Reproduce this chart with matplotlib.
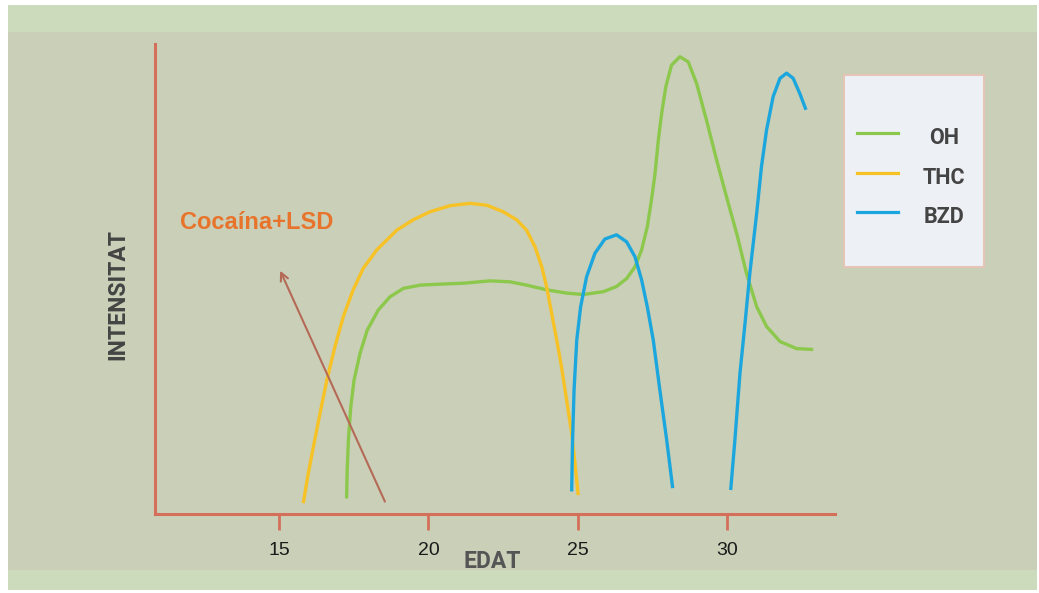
import numpy as np
import matplotlib
matplotlib.use("Agg")
from matplotlib import pyplot as plt
from matplotlib.patches import Rectangle
from matplotlib.lines import Line2D

# values (EDAT in years, INTENSITAT on a 0-100 scale)
thc_x = [15.81, 15.98, 16.15, 16.37, 16.60, 16.87, 17.15, 17.48, 17.82, 18.27, 18.94, 19.49, 20.05, 20.72,
         21.39, 21.95, 22.50, 22.95, 23.28, 23.56, 23.79, 23.95, 24.12, 24.29, 24.45, 24.62, 24.79, 24.90, 25.01]
thc_y = [2.3, 8.7, 14.3, 21.4, 28.5, 35.6, 42.0, 47.7, 52.3, 56.2, 60.4, 62.6, 64.3, 65.6,
         66.1, 65.7, 64.3, 62.6, 60.4, 56.9, 52.6, 48.4, 42.7, 37.0, 31.3, 24.3, 17.2, 10.8, 4.0]

oh_x = [17.26, 17.28, 17.32, 17.40, 17.51, 17.71, 17.95, 18.32, 18.71, 19.16, 19.72, 20.38, 21.16, 22.06,
        22.73, 23.28, 23.95, 24.62, 25.18, 25.85, 26.29, 26.63, 26.91, 27.13, 27.32, 27.46, 27.58,
        27.69, 27.80, 27.94, 28.13, 28.41, 28.69, 28.97, 29.30, 29.64, 29.97, 30.31, 30.64, 30.98,
        31.31, 31.76, 32.31, 32.87]
oh_y = [3.3, 9.4, 15.7, 22.8, 28.5, 34.2, 39.1, 43.4, 46.2, 48.0, 48.7, 48.9, 49.1, 49.6,
        49.4, 48.7, 47.7, 47.0, 46.7, 47.3, 48.4, 50.1, 52.6, 56.2, 61.1, 66.8, 72.5,
        79.6, 85.2, 90.9, 95.5, 97.3, 96.2, 91.6, 83.8, 75.3, 67.5, 59.7, 51.2, 44.1,
        39.9, 36.7, 35.2, 35.0]

# two separate humps, NaN breaks the line
bzd_x = [24.79, 24.82, 24.87, 24.96, 25.09, 25.29, 25.57, 25.90, 26.29, 26.63, 26.91, 27.13, 27.32,
         27.52, 27.74, 27.97, 28.17, np.nan,
         30.11, 30.25, 30.42, 30.59, 30.75, 30.98, 31.14, 31.31, 31.53, 31.76, 31.98, 32.20, 32.42, 32.63]
bzd_y = [4.8, 15.7, 26.4, 37.0, 44.1, 50.5, 55.5, 58.5, 59.4, 57.9, 54.7, 49.8, 44.1,
         37.0, 26.4, 15.7, 5.5, np.nan,
         5.1, 15.7, 29.9, 40.6, 51.2, 64.0, 73.9, 81.7, 88.8, 92.7, 93.8, 92.7, 89.5, 86.0]

series = ["OH", "THC", "BZD"]
colors = ["#8cc84b", "#f6c225", "#1ba7de"]
ticks = [15, 20, 25, 30]

axis_col = "#d4705a"
W, H = 1039, 593

plt.rcParams['font.family'] = ['Roboto', 'DejaVu Sans']

fig = plt.figure(figsize=(W / 100, H / 100), dpi=100)
fig.patch.set_facecolor("white")


def fx(px):
    return px / W


def fy(py):
    return 1 - py / H


# background bands
fig.patches.append(Rectangle((fx(8), fy(590)), fx(1037) - fx(8), fy(5) - fy(590),
                             transform=fig.transFigure, facecolor="#cbdbbc", edgecolor="none", zorder=-2))
fig.patches.append(Rectangle((fx(8), fy(570)), fx(1037) - fx(8), fy(32) - fy(570),
                             transform=fig.transFigure, facecolor="#cacfb8", edgecolor="none", zorder=-2))
fig.patches.append(Rectangle((fx(8), fy(590)), fx(1037) - fx(8), fy(570) - fy(590),
                             transform=fig.transFigure, facecolor="#cbdbbc", edgecolor="none", zorder=5))

ax = fig.add_axes([fx(155), fy(514), fx(835) - fx(155), fy(44) - fy(514)])
ax.set_zorder(1)
ax.set_facecolor("none")
ax.set_xlim(10.85, 33.6)
ax.set_ylim(0, 100)

for s in ["top", "right"]:
    ax.spines[s].set_visible(False)
for s in ["left", "bottom"]:
    ax.spines[s].set_color(axis_col)
    ax.spines[s].set_linewidth(2.2)

ax.set_xticks(ticks)
ax.set_xticklabels([str(t) for t in ticks], fontsize=14, color="#1a1a1a", family="Liberation Sans")
ax.tick_params(axis="x", direction="out", length=11.5, width=2, color=axis_col, pad=9)
ax.set_yticks([])

ax.plot(oh_x, oh_y, color=colors[0], linewidth=2.4, solid_joinstyle="round", solid_capstyle="butt")
ax.plot(thc_x, thc_y, color=colors[1], linewidth=2.4, solid_joinstyle="round", solid_capstyle="butt")
ax.plot(bzd_x, bzd_y, color=colors[2], linewidth=2.4, solid_joinstyle="round", solid_capstyle="butt")

# arrow towards Cocaína+LSD
ax.annotate("", xy=(15.0, 52.3), xytext=(18.58, 2.1),
            arrowprops=dict(arrowstyle="->", color="#b56a57", lw=1.5, mutation_scale=14))
ax.text(11.69, 62.1, "Cocaína+LSD", color="#e8742c", fontsize=17, fontweight="bold",
        family="Liberation Sans", ha="left", va="center")

fig.text(fx(118), fy(295), "INTENSITAT", rotation=90, fontsize=16.5, fontweight="bold",
         color="#444444", ha="center", va="center")
fig.text(fx(492), fy(550), "EDAT", fontsize=16.5, fontweight="bold",
         color="#555555", ha="center", va="top", zorder=1)

# legend box drawn by hand
fig.patches.append(Rectangle((fx(844), fy(267)), fx(984) - fx(844), fy(75) - fy(267),
                             transform=fig.transFigure, facecolor="#edf1f6", edgecolor="#e6c4b6",
                             linewidth=1.5, zorder=3))
for i, name in enumerate(series):
    ly = 133 + i * 39.5
    fig.lines.append(Line2D([fx(857), fx(898)], [fy(ly), fy(ly)], transform=fig.transFigure,
                            color=colors[i], linewidth=2.3, zorder=4))
    fig.text(fx(944), fy(ly + 5), name, fontsize=15.5, fontweight="bold", color="#444444",
             ha="center", va="center", zorder=4)

fig.savefig("out.png", dpi=100)
